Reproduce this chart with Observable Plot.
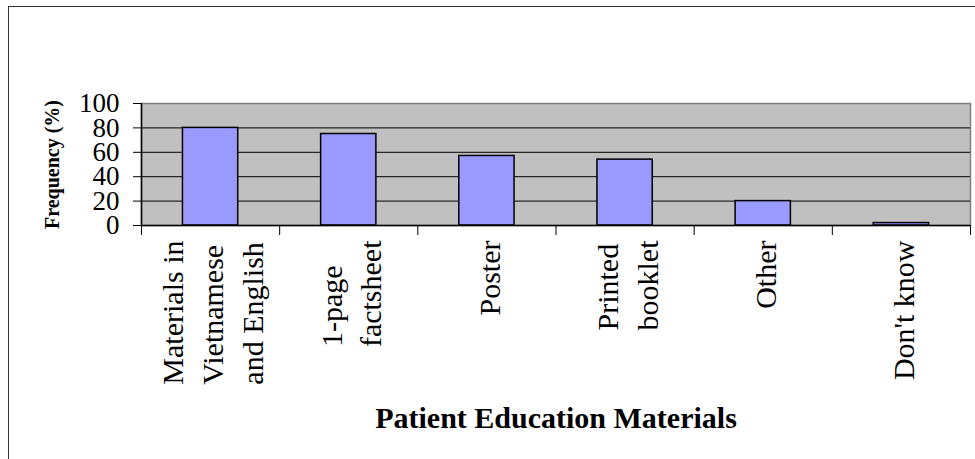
<!DOCTYPE html>
<html><head><meta charset="utf-8">
<script src="https://cdn.jsdelivr.net/npm/d3@7"></script>
<script src="https://cdn.jsdelivr.net/npm/@observablehq/plot@0.6"></script>
<style>
body{margin:0;background:#fff;overflow:hidden}
#wrap{position:relative;width:975px;height:459px;overflow:hidden;background:#fff}
#border{position:absolute;left:8px;top:6px;width:2000px;height:2000px;border:1.5px solid #333;pointer-events:none}
#chart{position:absolute;left:0;top:0}
</style></head><body>
<div id="wrap"><div id="border"></div><div id="chart"></div></div>
<script>
const categories = ["Materials in\nVietnamese\nand English", "1-page\nfactsheet", "Poster", "Printed\nbooklet", "Other", "Don't know"];
const values = [80, 75, 57, 54, 20, 2];
const yTicks = [0, 20, 40, 60, 80, 100];
const gridValues = [20, 40, 60, 80];
const yTitle = "Frequency (%)";
const xTitle = "Patient Education Materials";

const data = categories.map((c, i) => ({category: c, value: values[i], i}));

const ctx = document.createElement("canvas").getContext("2d");
ctx.font = "30px 'Liberation Serif'";
const maxLen = s => d3.max(s.split("\n"), l => ctx.measureText(l).width);

const labelMarks = data.map(d => Plot.text([d], {
  x: r => r.i + 0.5, y: () => 0, text: "category",
  rotate: -90, textAnchor: "start", lineAnchor: "middle", lineHeight: 1.33,
  fontSize: 30, fill: "black", dy: 15 + maxLen(d.category)
}));

const chart = Plot.plot({
  width: 975, height: 459,
  marginLeft: 141, marginRight: 5, marginTop: 103, marginBottom: 234,
  style: {fontFamily: "'Liberation Serif', serif", background: "transparent", color: "black", overflow: "visible"},
  x: {domain: [0, categories.length]},
  y: {domain: [0, 100]},
  marks: [
    Plot.frame({fill: "#c0c0c0", stroke: "#808080", strokeWidth: 1.5}),
    Plot.ruleY(gridValues, {stroke: "black", strokeWidth: 1}),
    Plot.rectY(data, {x1: d => d.i + 0.3, x2: d => d.i + 0.7, y1: () => 0, y2: "value", fill: "#9999ff", stroke: "black", strokeWidth: 1.5}),
    Plot.ruleY([0], {stroke: "black", strokeWidth: 1.5}),
    Plot.ruleX([0], {stroke: "black", strokeWidth: 1.5}),
    Plot.axisY({ticks: yTicks, tickSize: 8, tickPadding: 14, fontSize: 27, label: null, stroke: "black", fill: "black"}),
    Plot.axisX({ticks: d3.range(categories.length + 1), tickFormat: () => "", tickSize: 10, label: null, stroke: "black"}),
    ...labelMarks,
    Plot.text([yTitle], {frameAnchor: "left", rotate: -90, dx: -89, fontWeight: "bold", fontSize: 20, lineAnchor: "middle", textAnchor: "middle", fill: "black"}),
    Plot.text([xTitle], {frameAnchor: "bottom", dy: 193, fontWeight: "bold", fontSize: 30, lineAnchor: "middle", textAnchor: "middle", fill: "black"})
  ]
});
document.getElementById("chart").appendChild(chart);
</script>
</body></html>
